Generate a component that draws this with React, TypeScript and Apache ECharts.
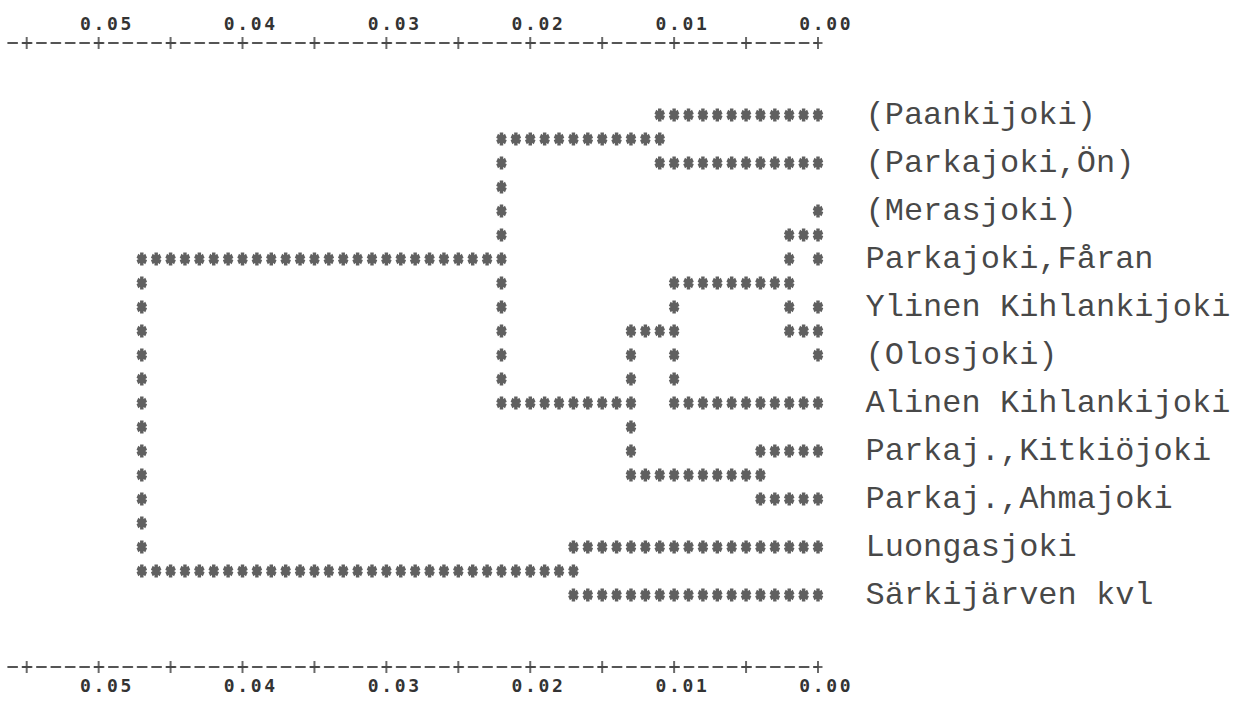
import React, { useEffect, useRef } from "react";
import * as echarts from "echarts";

// ---- data ----
const LEAVES = [
  "(Paankijoki)",
  "(Parkajoki,Ön)",
  "(Merasjoki)",
  "Parkajoki,Fåran",
  "Ylinen Kihlankijoki",
  "(Olosjoki)",
  "Alinen Kihlankijoki",
  "Parkaj.,Kitkiöjoki",
  "Parkaj.,Ahmajoki",
  "Luongasjoki",
  "Särkijärven kvl",
];
// merges: [childA, childB, distance]; ids >= LEAVES.length refer to earlier merges
const MERGE_A = [2, 4, 11, 7, 13, 0, 15, 16, 9, 18];
const MERGE_B = [3, 5, 12, 8, 6, 1, 14, 17, 10, 19];
const MERGE_H = [0.0, 0.0, 0.002, 0.004, 0.01, 0.011, 0.013, 0.022, 0.017, 0.047];
const TICK_VALUES = [0, 0.005, 0.01, 0.015, 0.02, 0.025, 0.03, 0.035, 0.04, 0.045, 0.05, 0.055];
const LABEL_VALUES = [0, 0.01, 0.02, 0.03, 0.04, 0.05];
const STEP = 0.001; // one printed character column

function buildStars() {
  const n = LEAVES.length;
  const row: number[] = [];
  const h: number[] = [];
  const parent: number[] = [];
  for (let i = 0; i < n; i++) {
    row[i] = 2 * i;
    h[i] = 0;
  }
  MERGE_H.forEach((hh, k) => {
    const id = n + k;
    const a = MERGE_A[k];
    const b = MERGE_B[k];
    row[id] = Math.floor((row[a] + row[b]) / 2);
    h[id] = hh;
    parent[a] = id;
    parent[b] = id;
  });
  const set = new Set<string>();
  const pts: number[][] = [];
  const add = (c: number, r: number) => {
    const key = c + "_" + r;
    if (!set.has(key)) {
      set.add(key);
      pts.push([c * STEP, r]);
    }
  };
  for (let id = 0; id < n + MERGE_H.length; id++) {
    if (parent[id] === undefined) continue;
    const c0 = Math.round(h[id] / STEP);
    const c1 = Math.round(h[parent[id]] / STEP);
    for (let c = c0; c <= c1; c++) add(c, row[id]);
  }
  MERGE_H.forEach((hh, k) => {
    const c = Math.round(hh / STEP);
    const r0 = Math.min(row[MERGE_A[k]], row[MERGE_B[k]]);
    const r1 = Math.max(row[MERGE_A[k]], row[MERGE_B[k]]);
    for (let r = r0; r <= r1; r++) add(c, r);
  });
  return pts;
}

function starPath() {
  const parts: string[] = [];
  const angles = [90, 30, -30];
  const L = 50;
  const W = 17;
  angles.forEach((deg) => {
    const t = (deg * Math.PI) / 180;
    const dx = Math.cos(t), dy = Math.sin(t);
    const px = -dy, py = dx;
    const pts = [
      [50 + dx * L + px * W, 50 + dy * L + py * W],
      [50 - dx * L + px * W, 50 - dy * L + py * W],
      [50 - dx * L - px * W, 50 - dy * L - py * W],
      [50 + dx * L - px * W, 50 + dy * L - py * W],
    ];
    parts.push(
      "M" + pts.map((p) => p[0].toFixed(2) + " " + p[1].toFixed(2)).join(" L") + " Z"
    );
  });
  return "path://" + parts.join(" ");
}

const PLUS_PATH = "path://M39 0 L61 0 L61 42 L100 42 L100 58 L61 58 L61 100 L39 100 L39 58 L0 58 L0 42 L39 42 Z";

export default function App() {
  const ref = useRef<HTMLDivElement>(null);
  useEffect(() => {
    if (!ref.current) return;
    const chart = echarts.init(ref.current, undefined, { renderer: "svg" });
    const stars = buildStars();
    const tickPts: number[][] = [];
    TICK_VALUES.forEach((v) => {
      tickPts.push([v, -3]);
      tickPts.push([v, 23]);
    });
    // each printed character sits in its own fixed-width cell (typewriter)
    const labelFmt = (v: number) =>
      LABEL_VALUES.some((l) => Math.abs(l - v) < 1e-7)
        ? v
            .toFixed(2)
            .split("")
            .map((ch) => "{c|" + ch + "}")
            .join("")
        : "";
    const rich = {
      c: {
        width: 13.5,
        align: "center",
        fontFamily: "DejaVu Sans Mono",
        fontWeight: "bold",
        fontSize: 18,
        color: "#333",
      },
    };
    const axisCommon = {
      type: "value",
      min: 0,
      max: 0.0563,
      interval: 0.005,
      inverse: true,
      splitLine: { show: false },
      axisTick: { show: false },
      axisLine: {
        show: true,
        onZero: false,
        lineStyle: { color: "#555", width: 2, type: [9, 5.39], dashOffset: 4.5 },
      },
    };
    chart.setOption({
      animation: false,
      backgroundColor: "#ffffff",
      grid: { left: 8, right: 424, top: 43, bottom: 35, containLabel: false },
      xAxis: [
        {
          ...axisCommon,
          position: "bottom",
          axisLabel: {
            formatter: labelFmt,
            rich,
            margin: 9,
            padding: [0, 0, 0, 14],
            showMaxLabel: false,
          },
        },
        {
          ...axisCommon,
          position: "top",
          axisLabel: {
            formatter: labelFmt,
            rich,
            margin: 11,
            padding: [0, 0, 0, 14],
            showMaxLabel: false,
          },
        },
      ],
      yAxis: { type: "value", min: -3, max: 23, inverse: true, show: false },
      series: [
        {
          type: "scatter",
          silent: true,
          data: stars,
          symbol: starPath(),
          symbolSize: [10.5, 13],
          itemStyle: { color: "#383838" },
        },
        {
          type: "scatter",
          silent: true,
          data: tickPts,
          symbol: PLUS_PATH,
          symbolSize: [9, 12],
          itemStyle: { color: "#444" },
        },
        {
          type: "scatter",
          silent: true,
          data: LEAVES.map((name, i) => ({ name, value: [0, 2 * i] })),
          symbolSize: 1,
          itemStyle: { color: "transparent" },
          label: {
            show: true,
            position: "right",
            distance: 47,
            formatter: "{b}",
            fontFamily: "Liberation Mono",
            fontSize: 32,
            color: "#161616",
          },
        },
      ],
    });
    return () => chart.dispose();
  }, []);
  return (
    <div
      ref={ref}
      style={{ position: "fixed", left: 0, top: 0, width: 1242, height: 702, background: "#fff" }}
    />
  );
}
